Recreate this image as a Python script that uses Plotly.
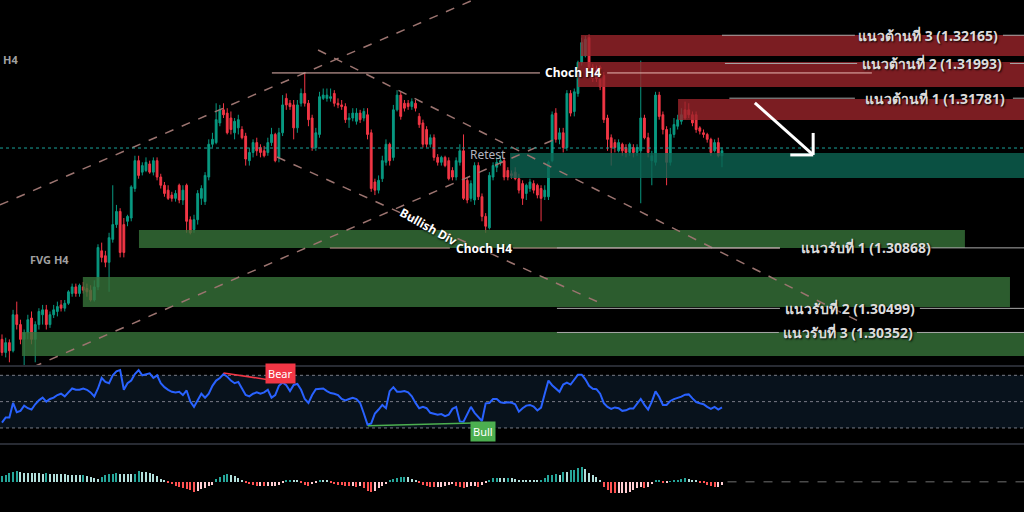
import plotly.graph_objects as go

# ---------------- data (GBPUSD H4) ----------------
opens = [
    1.3031, 1.3023, 1.3029, 1.3024, 1.3046, 1.3040, 1.3031, 1.3035, 1.3044, 1.3031,
    1.3040, 1.3046, 1.3049, 1.3040, 1.3046, 1.3048, 1.3052, 1.3050, 1.3053, 1.3059,
    1.3063, 1.3059, 1.3063, 1.3062, 1.3061, 1.3055, 1.3063, 1.3085, 1.3082, 1.3078,
    1.3092, 1.3101, 1.3109, 1.3101, 1.3103, 1.3105, 1.3123, 1.3140, 1.3133, 1.3134,
    1.3138, 1.3133, 1.3140, 1.3130, 1.3125, 1.3122, 1.3119, 1.3117, 1.3125, 1.3116,
    1.3125, 1.3104, 1.3098, 1.3104, 1.3117, 1.3115, 1.3130, 1.3150, 1.3151, 1.3163,
    1.3171, 1.3169, 1.3166, 1.3157, 1.3160, 1.3159, 1.3155, 1.3140, 1.3145, 1.3151,
    1.3148, 1.3146, 1.3145, 1.3151, 1.3156, 1.3142, 1.3157, 1.3178, 1.3175, 1.3174,
    1.3160, 1.3175, 1.3181, 1.3175, 1.3166, 1.3148, 1.3156, 1.3178, 1.3178, 1.3178,
    1.3181, 1.3175, 1.3174, 1.3173, 1.3165, 1.3166, 1.3164, 1.3169, 1.3166, 1.3168,
    1.3157, 1.3127, 1.3122, 1.3129, 1.3139, 1.3150, 1.3142, 1.3171, 1.3180, 1.3175,
    1.3175, 1.3173, 1.3175, 1.3167, 1.3163, 1.3159, 1.3150, 1.3154, 1.3142, 1.3139,
    1.3142, 1.3140, 1.3134, 1.3130, 1.3139, 1.3146, 1.3128, 1.3117, 1.3116, 1.3137,
    1.3118, 1.3106, 1.3099, 1.3130, 1.3136, 1.3139, 1.3140, 1.3134, 1.3132, 1.3133,
    1.3129, 1.3126, 1.3120, 1.3123, 1.3126, 1.3125, 1.3123, 1.3118, 1.3118, 1.3140,
    1.3169, 1.3153, 1.3157, 1.3148, 1.3181, 1.3170, 1.3181, 1.3200, 1.3204, 1.3215,
    1.3197, 1.3195, 1.3197, 1.3192, 1.3166, 1.3154, 1.3151, 1.3146, 1.3150, 1.3148,
    1.3145, 1.3148, 1.3145, 1.3146, 1.3166, 1.3154, 1.3140, 1.3139, 1.3180, 1.3168,
    1.3159, 1.3139, 1.3156, 1.3161, 1.3164, 1.3171, 1.3171, 1.3168, 1.3168, 1.3160,
    1.3157, 1.3156, 1.3153, 1.3146, 1.3151, 1.3143,
]
highs = [
    1.3034, 1.3032, 1.3031, 1.3049, 1.3054, 1.3043, 1.3037, 1.3046, 1.3048, 1.3042,
    1.3050, 1.3052, 1.3052, 1.3048, 1.3052, 1.3054, 1.3055, 1.3055, 1.3061, 1.3065,
    1.3065, 1.3065, 1.3066, 1.3065, 1.3064, 1.3067, 1.3089, 1.3090, 1.3085, 1.3096,
    1.3125, 1.3113, 1.3111, 1.3105, 1.3107, 1.3125, 1.3143, 1.3143, 1.3139, 1.3142,
    1.3140, 1.3142, 1.3142, 1.3132, 1.3127, 1.3125, 1.3121, 1.3122, 1.3126, 1.3125,
    1.3126, 1.3106, 1.3107, 1.3122, 1.3125, 1.3133, 1.3153, 1.3157, 1.3175, 1.3174,
    1.3175, 1.3172, 1.3170, 1.3166, 1.3168, 1.3161, 1.3157, 1.3148, 1.3153, 1.3154,
    1.3150, 1.3149, 1.3154, 1.3160, 1.3157, 1.3160, 1.3180, 1.3181, 1.3177, 1.3177,
    1.3177, 1.3184, 1.3193, 1.3177, 1.3168, 1.3160, 1.3182, 1.3184, 1.3184, 1.3184,
    1.3183, 1.3178, 1.3177, 1.3175, 1.3169, 1.3172, 1.3172, 1.3171, 1.3172, 1.3172,
    1.3159, 1.3129, 1.3131, 1.3143, 1.3153, 1.3151, 1.3174, 1.3183, 1.3182, 1.3177,
    1.3177, 1.3178, 1.3177, 1.3169, 1.3165, 1.3161, 1.3156, 1.3156, 1.3144, 1.3143,
    1.3143, 1.3142, 1.3136, 1.3142, 1.3150, 1.3156, 1.3130, 1.3128, 1.3139, 1.3139,
    1.3120, 1.3108, 1.3133, 1.3139, 1.3142, 1.3143, 1.3142, 1.3136, 1.3134, 1.3136,
    1.3132, 1.3128, 1.3126, 1.3129, 1.3128, 1.3126, 1.3125, 1.3125, 1.3140, 1.3170,
    1.3172, 1.3160, 1.3160, 1.3183, 1.3183, 1.3184, 1.3201, 1.3215, 1.3216, 1.3217,
    1.3199, 1.3198, 1.3198, 1.3194, 1.3168, 1.3156, 1.3153, 1.3153, 1.3151, 1.3150,
    1.3151, 1.3150, 1.3150, 1.3201, 1.3168, 1.3157, 1.3146, 1.3182, 1.3182, 1.3170,
    1.3161, 1.3160, 1.3166, 1.3168, 1.3172, 1.3176, 1.3175, 1.3170, 1.3170, 1.3161,
    1.3159, 1.3157, 1.3154, 1.3153, 1.3154, 1.3148,
]
lows = [
    1.3021, 1.3020, 1.3017, 1.3023, 1.3037, 1.3028, 1.3014, 1.3031, 1.3028, 1.3017,
    1.3037, 1.3040, 1.3037, 1.3038, 1.3044, 1.3045, 1.3048, 1.3048, 1.3052, 1.3057,
    1.3057, 1.3057, 1.3059, 1.3057, 1.3054, 1.3054, 1.3061, 1.3078, 1.3075, 1.3060,
    1.3090, 1.3099, 1.3081, 1.3081, 1.3100, 1.3103, 1.3121, 1.3129, 1.3131, 1.3133,
    1.3132, 1.3131, 1.3128, 1.3123, 1.3118, 1.3116, 1.3115, 1.3115, 1.3114, 1.3113,
    1.3096, 1.3095, 1.3096, 1.3101, 1.3113, 1.3113, 1.3128, 1.3148, 1.3150, 1.3161,
    1.3166, 1.3156, 1.3156, 1.3153, 1.3156, 1.3153, 1.3137, 1.3137, 1.3142, 1.3143,
    1.3142, 1.3142, 1.3143, 1.3149, 1.3139, 1.3139, 1.3155, 1.3171, 1.3171, 1.3153,
    1.3157, 1.3173, 1.3173, 1.3161, 1.3146, 1.3146, 1.3154, 1.3177, 1.3176, 1.3176,
    1.3173, 1.3172, 1.3171, 1.3163, 1.3160, 1.3164, 1.3162, 1.3163, 1.3164, 1.3153,
    1.3121, 1.3119, 1.3120, 1.3127, 1.3137, 1.3137, 1.3140, 1.3170, 1.3165, 1.3170,
    1.3171, 1.3171, 1.3170, 1.3160, 1.3148, 1.3148, 1.3148, 1.3140, 1.3137, 1.3137,
    1.3136, 1.3128, 1.3128, 1.3128, 1.3137, 1.3116, 1.3114, 1.3115, 1.3113, 1.3116,
    1.3103, 1.3096, 1.3098, 1.3128, 1.3133, 1.3137, 1.3128, 1.3128, 1.3129, 1.3128,
    1.3120, 1.3113, 1.3116, 1.3121, 1.3120, 1.3117, 1.3103, 1.3116, 1.3116, 1.3139,
    1.3151, 1.3150, 1.3145, 1.3146, 1.3167, 1.3167, 1.3179, 1.3198, 1.3203, 1.3194,
    1.3188, 1.3188, 1.3183, 1.3163, 1.3146, 1.3137, 1.3145, 1.3145, 1.3143, 1.3142,
    1.3143, 1.3142, 1.3143, 1.3114, 1.3153, 1.3142, 1.3125, 1.3137, 1.3165, 1.3156,
    1.3125, 1.3137, 1.3154, 1.3159, 1.3162, 1.3165, 1.3166, 1.3161, 1.3157, 1.3156,
    1.3154, 1.3151, 1.3143, 1.3145, 1.3142, 1.3136,
]
closes = [
    1.3023, 1.3029, 1.3024, 1.3046, 1.3040, 1.3031, 1.3035, 1.3043, 1.3031, 1.3040,
    1.3048, 1.3049, 1.3040, 1.3046, 1.3049, 1.3051, 1.3050, 1.3053, 1.3060, 1.3063,
    1.3059, 1.3064, 1.3061, 1.3060, 1.3055, 1.3063, 1.3087, 1.3081, 1.3078, 1.3093,
    1.3101, 1.3109, 1.3084, 1.3084, 1.3106, 1.3124, 1.3140, 1.3131, 1.3137, 1.3139,
    1.3133, 1.3140, 1.3130, 1.3125, 1.3120, 1.3117, 1.3117, 1.3120, 1.3116, 1.3122,
    1.3103, 1.3096, 1.3104, 1.3120, 1.3123, 1.3131, 1.3150, 1.3153, 1.3165, 1.3171,
    1.3168, 1.3157, 1.3159, 1.3164, 1.3165, 1.3154, 1.3141, 1.3145, 1.3151, 1.3146,
    1.3145, 1.3143, 1.3151, 1.3156, 1.3140, 1.3157, 1.3174, 1.3174, 1.3173, 1.3160,
    1.3174, 1.3181, 1.3175, 1.3165, 1.3148, 1.3157, 1.3179, 1.3180, 1.3180, 1.3179,
    1.3175, 1.3174, 1.3173, 1.3165, 1.3166, 1.3169, 1.3169, 1.3165, 1.3170, 1.3156,
    1.3123, 1.3122, 1.3128, 1.3140, 1.3150, 1.3140, 1.3171, 1.3180, 1.3167, 1.3172,
    1.3173, 1.3176, 1.3172, 1.3162, 1.3150, 1.3150, 1.3154, 1.3142, 1.3139, 1.3142,
    1.3137, 1.3129, 1.3130, 1.3140, 1.3146, 1.3117, 1.3116, 1.3126, 1.3137, 1.3118,
    1.3106, 1.3100, 1.3131, 1.3137, 1.3139, 1.3140, 1.3130, 1.3130, 1.3131, 1.3129,
    1.3122, 1.3117, 1.3125, 1.3127, 1.3122, 1.3119, 1.3117, 1.3122, 1.3139, 1.3168,
    1.3153, 1.3157, 1.3148, 1.3181, 1.3169, 1.3182, 1.3200, 1.3212, 1.3214, 1.3197,
    1.3190, 1.3190, 1.3185, 1.3165, 1.3153, 1.3148, 1.3148, 1.3151, 1.3146, 1.3145,
    1.3150, 1.3145, 1.3148, 1.3166, 1.3154, 1.3145, 1.3143, 1.3180, 1.3167, 1.3159,
    1.3139, 1.3156, 1.3162, 1.3165, 1.3168, 1.3166, 1.3168, 1.3163, 1.3159, 1.3158,
    1.3156, 1.3153, 1.3145, 1.3151, 1.3143, 1.3146,
]
rsi = [
    34, 38, 38, 49, 42, 43, 47, 45, 44, 48,
    51, 53, 50, 52, 53, 55, 56, 54, 57, 60,
    59, 59, 60, 59, 57, 54, 60, 68, 65, 64,
    70, 73, 74, 59, 64, 66, 71, 74, 70, 71,
    71.5, 68, 70, 64, 61, 59, 57.5, 57, 57.5, 55,
    58.5, 50, 46, 51, 56, 53, 56, 62, 66, 68,
    71, 69, 66, 64, 65, 60, 55, 54, 56, 57,
    56, 57, 59, 53, 55, 62, 64.5, 62.5, 58, 62.7,
    63.5, 59, 52, 49, 55, 59.5, 60, 60, 58, 56.5,
    56, 55, 52, 51, 52, 53, 52, 49, 41, 32.5,
    33.5, 41, 44, 47.5, 45, 58, 61, 57.6, 57.6, 58,
    57, 54, 49, 45, 46, 45, 41.5, 40.5, 40, 40.5,
    39, 40, 44.5, 46, 35, 34.8, 40, 46, 41.5, 38,
    35.3, 48.7, 49, 52, 52, 49.5, 49, 49.6, 49.2, 48,
    42.4, 45, 47, 47.5, 46.2, 43.3, 45.5, 56, 66, 62.5,
    60, 57.5, 63, 64.5, 63, 67, 70.5, 70.5, 67, 62,
    59.8, 59.5, 56, 48.8, 46, 44.5, 45.6, 45, 43, 43.4,
    44.7, 44.7, 48, 52, 47.6, 44, 50, 57.8, 53.5, 47.5,
    47.5, 50.5, 51.9, 52.8, 53.8, 55.3, 55.5, 52.5, 49.7, 48.8,
    48, 46, 44.5, 46, 44, 45.6,
]
macd_hist = [
    6, 7, 9, 10, 11, 9.5, 9, 9, 8.5, 8.5,
    8.5, 8, 8.5, 8, 8, 7.5, 7.5, 7.5, 7, 7,
    7, 6.5, 7, 6, 5, 3.5, 3, 5, 6.5, 7.5,
    8, 8.5, 8, 7.5, 7.5, 7.5, 8, 10.5, 10, 9.5,
    8.5, 7.5, 5.5, 3, 1.5, -1, -2, -4, -5, -6,
    -7, -8.5, -10, -9, -7.5, -6, -4.5, -3, 3, 5,
    7, 8, 7, 5.5, 4, 2, -1.5, -2.5, -3, -4,
    -4, -4.5, -4.5, -4, -4, -3, -1, 1, 1.5, 1.5,
    1, -1, -3, -4, -2, -1, 1, 1, 1, -0.5,
    -2, -3, -3.5, -4, -4.5, -4.5, -5, -4.5, -6, -9,
    -10, -9, -6, -4, -2.5, 1, 3, 4, 4.5, 5,
    4.5, 3, 1.5, -1.5, -3, -4, -5, -5.5, -5.5, -5,
    -4, -3, -2.5, -4, -5.5, -6, -5.5, -4.5, -4, -5.5,
    -3, -1, 2, 3.5, 4, 4, 3.5, 4, 3.5, 3,
    1.5, 1.5, 1.5, 1.5, 1, 1, 1.5, 3.5, 6.5, 7,
    8, 6.5, 10, 10, 11.5, 12, 14, 15, 12.5, 9,
    6.5, 4.5, 1, -5, -8.5, -11, -11.7, -11.7, -11.7, -11,
    -10, -8.5, -6, -5, -6, -5, -2, 1, 1.2, -1.5,
    -1.5, 0.5, 1, 2, 2.5, 3.3, 3, 1.5, 1, -0.8,
    -1.5, -3, -4, -5, -5, -3.7,
]
bars = list(range(len(closes)))

# key levels / zones
res_levels = [1.32165, 1.31993, 1.31781]
res_names = ["แนวต้านที่ 3", "แนวต้านที่ 2", "แนวต้านที่ 1"]
sup_levels = [1.30868, 1.30499, 1.30352]
sup_names = ["แนวรับที่ 1", "แนวรับที่ 2", "แนวรับที่ 3"]
supply_zones = [(156.8, 1.32166, 1.32038), (156.0, 1.32002, 1.31849), (183.1, 1.31776, 1.31648)]
retest_zone = (137.6, 1.31447, 1.31294)
demand_zones = [(37.1, 260.8, 1.30977, 1.30867), (21.9, 273.0, 1.30690, 1.30507), (5.4, 290, 1.30355, 1.30208)]
choch_up = 1.31935
choch_down = 1.30867
last_price = 1.31477

# RSI divergences
bear_x, bear_y = [60, 76], [71.8, 65.0]
bull_x, bull_y = [99.1, 130.3], [31.7, 34.0]

UP, DOWN = "#089981", "#f23645"
X0, X1 = -0.54, 276.8

fig = go.Figure()

fig.add_trace(go.Candlestick(
    x=bars, open=opens, high=highs, low=lows, close=closes,
    increasing=dict(line=dict(color=UP, width=1), fillcolor=UP),
    decreasing=dict(line=dict(color=DOWN, width=1), fillcolor=DOWN),
    xaxis="x", yaxis="y", showlegend=False, hoverinfo="skip",
))

fig.add_trace(go.Scatter(x=bars, y=rsi, mode="lines", line=dict(color="#2962ff", width=2),
                         xaxis="x", yaxis="y2", showlegend=False, hoverinfo="skip"))
fig.add_trace(go.Scatter(x=bear_x, y=bear_y, mode="lines", line=dict(color=DOWN, width=1.5),
                         xaxis="x", yaxis="y2", showlegend=False, hoverinfo="skip"))
fig.add_trace(go.Scatter(x=bull_x, y=bull_y, mode="lines", line=dict(color="#4caf50", width=1.5),
                         xaxis="x", yaxis="y2", showlegend=False, hoverinfo="skip"))

# histogram colours like TradingView MACD
hist_colors = []
prev = 0
for v in macd_hist:
    if v >= 0:
        hist_colors.append("#26a69a" if v > prev else "#b2dfdb")
    else:
        hist_colors.append("#ff5252" if v < prev else "#ffcdd2")
    prev = v
fig.add_trace(go.Bar(x=bars, y=macd_hist, marker=dict(color=hist_colors, line=dict(width=0)),
                     width=0.55, xaxis="x", yaxis="y3", showlegend=False, hoverinfo="skip"))

shapes = []
# zones (drawn over candles, semi transparent)
for x0, top, bot in supply_zones:
    shapes.append(dict(type="rect", xref="x", yref="y", x0=x0, x1=290, y0=bot, y1=top,
                       fillcolor="#9a242b", opacity=0.8, line=dict(width=0), layer="above"))
shapes.append(dict(type="rect", xref="x", yref="y", x0=retest_zone[0], x1=290,
                   y0=retest_zone[2], y1=retest_zone[1],
                   fillcolor="#0d6453", opacity=0.8, line=dict(width=0), layer="above"))
for x0, x1, top, bot in demand_zones:
    shapes.append(dict(type="rect", xref="x", yref="y", x0=x0, x1=x1, y0=bot, y1=top,
                       fillcolor="#37733a", opacity=0.8, line=dict(width=0), layer="above"))

# trend channels
dash_col = "#9c7470"
for (a, pa), (b, pb) in [((-0.54, 1.31130), (127.6, 1.3238)),
                         ((85.6, 1.32075), (232.4, 1.30416)),
                         ((74.5, 1.31422), (162.0, 1.30532)),
                         ((8.4, 1.30141), (151.1, 1.31544))]:
    shapes.append(dict(type="line", xref="x", yref="y", x0=a, y0=pa, x1=b, y1=pb,
                       line=dict(color=dash_col, width=1.5, dash="dash"), layer="above"))

# last price dotted line
shapes.append(dict(type="line", xref="paper", yref="y", x0=0, x1=1, y0=last_price, y1=last_price,
                   line=dict(color="#1aa39a", width=1, dash="dot")))

# choch lines (gap for label)
for a, b in [(73.1, 145.7), (163.9, 235.6)]:
    shapes.append(dict(type="line", xref="x", yref="y", x0=a, x1=b, y0=choch_up, y1=choch_up,
                       line=dict(color="#e8b8b2", width=1), layer="above"))
for a, b in [(88.8, 121.3), (138.4, 210.7)]:
    shapes.append(dict(type="line", xref="x", yref="y", x0=a, x1=b, y0=choch_down, y1=choch_down,
                       line=dict(color="#c89a94", width=1), layer="above"))

# level lines with label gap
res_segs = [[(195.0, 231.0), (271.1, X1)], [(195.8, 231.6), (273.0, X1)], [(197.0, 231.0), (273.8, X1)]]
sup_segs = [[(150.3, 210.7), (249.2, X1)], [(150.3, 210.7), (248.6, X1)], [(150.3, 210.4), (247.8, X1)]]
for lvl, segs in zip(res_levels + sup_levels, res_segs + sup_segs):
    for a, b in segs:
        shapes.append(dict(type="line", xref="x", yref="y", x0=a, x1=b, y0=lvl, y1=lvl,
                           line=dict(color="#a9a9a9", width=1), layer="above"))

# white arrow
arrow_tail = (203.9, 1.31752)
arrow_head = (219.7, 1.31435)
shapes.append(dict(type="line", xref="x", yref="y", x0=arrow_tail[0], y0=arrow_tail[1],
                   x1=arrow_head[0], y1=arrow_head[1], line=dict(color="white", width=3), layer="above"))
shapes.append(dict(type="line", xref="x", yref="y", x0=arrow_head[0] - 6.2, y0=arrow_head[1],
                   x1=arrow_head[0], y1=arrow_head[1], line=dict(color="white", width=3), layer="above"))
shapes.append(dict(type="line", xref="x", yref="y", x0=arrow_head[0], y0=arrow_head[1] + 0.00134,
                   x1=arrow_head[0], y1=arrow_head[1], line=dict(color="white", width=3), layer="above"))

# pane separators, RSI band
for yp in [0.2852, 0.1328]:
    shapes.append(dict(type="line", xref="paper", yref="paper", x0=0, x1=1, y0=yp, y1=yp,
                       line=dict(color="#363a45", width=1.5)))
shapes.append(dict(type="rect", xref="paper", yref="y2", x0=0, x1=1, y0=30, y1=70,
                   fillcolor="#08121c", line=dict(width=0), layer="below"))
for lv in [70, 50, 30]:
    shapes.append(dict(type="line", xref="paper", yref="y2", x0=0, x1=1, y0=lv, y1=lv,
                       line=dict(color="#787b86", width=1, dash="dot"), layer="below"))
shapes.append(dict(type="line", xref="x", yref="y3", x0=196.5, x1=X1, y0=0, y1=0,
                   line=dict(color="#4a4a4a", width=1.5, dash="dash")))

FONT = "Noto Sans, Roboto, sans-serif"
SH = "1px 1px 2px #000000"
ann = []
for name, lvl, xc in zip(res_names, res_levels, [250.8, 252.0, 252.7]):
    ann.append(dict(x=xc, y=lvl, text=f"{name} ({lvl:.5f})", xref="x", yref="y", showarrow=False,
                    font=dict(family=FONT, size=14, color="#dcdcdc", weight="bold", shadow=SH)))
for name, lvl, xc in zip(sup_names, sup_levels, [234.0, 229.7, 229.1]):
    ann.append(dict(x=xc, y=lvl, text=f"{name} ({lvl:.5f})", xref="x", yref="y", showarrow=False,
                    font=dict(family=FONT, size=14, color="#dcdcdc", weight="bold", shadow=SH)))
ann += [
    dict(x=154.7, y=choch_up, text="Choch H4", xref="x", yref="y", showarrow=False,
         font=dict(family=FONT, size=12, color="white", weight="bold", shadow=SH)),
    dict(x=130.5, y=choch_down, text="Choch H4", xref="x", yref="y", showarrow=False,
         font=dict(family=FONT, size=12, color="white", weight="bold", shadow=SH)),
    dict(x=115.4, y=1.30999, text="Bullish Div", textangle=29, xref="x", yref="y", showarrow=False,
         font=dict(family=FONT, size=12, color="white", weight="bold", shadow=SH)),
    dict(x=131.6, y=1.31435, text="Retest", xref="x", yref="y", showarrow=False,
         font=dict(family=FONT, size=12, color="#b2b5be")),
    dict(x=13.0, y=1.30800, text="FVG H4", xref="x", yref="y", showarrow=False,
         font=dict(family=FONT, size=11, color="#a0a0a0", weight="bold")),
    dict(x=2.2, y=1.32020, text="H4", xref="x", yref="y", showarrow=False,
         font=dict(family=FONT, size=11, color="#a0a0a0", weight="bold")),
    dict(x=75.3, y=71.5, text="Bear", xref="x", yref="y2", showarrow=False, bgcolor=DOWN, borderpad=2,
         font=dict(family=FONT, size=11, color="white")),
    dict(x=130.3, y=27.0, text="Bull", xref="x", yref="y2", showarrow=False, bgcolor="#4caf50", borderpad=2,
         font=dict(family=FONT, size=11, color="white")),
]

hidden = dict(visible=False, showgrid=False, zeroline=False, fixedrange=True)
fig.update_layout(
    width=1024, height=512,
    margin=dict(l=0, r=0, t=0, b=0),
    paper_bgcolor="#000000", plot_bgcolor="#000000",
    xaxis=dict(range=[X0, X1], rangeslider=dict(visible=False), **hidden),
    yaxis=dict(domain=[0.2871, 1], range=[1.301535, 1.3238], **hidden),
    yaxis2=dict(domain=[0.1328, 0.2852], range=[17.8, 77.1], anchor="x", **hidden),
    yaxis3=dict(domain=[0, 0.1328], range=[-30.3, 37.7], anchor="x", **hidden),
    shapes=shapes, annotations=ann,
    showlegend=False, bargap=0,
)

# the page body has a default 8px margin; drop it so the chart fills the window
fig.write_html("out.html", config=dict(displayModeBar=False),
               post_script="document.body.style.margin='0';document.body.style.overflow='hidden';"
                           "document.body.style.background='#000';")
